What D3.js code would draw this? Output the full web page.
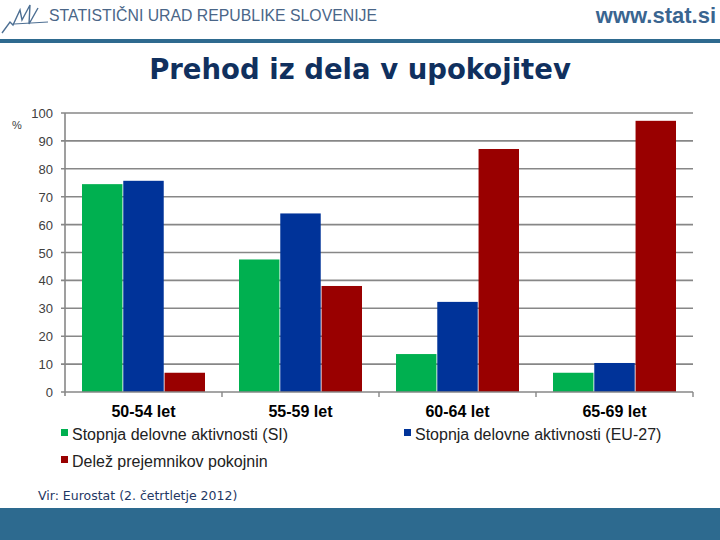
<!DOCTYPE html>
<html><head><meta charset="utf-8">
<script src="https://cdn.jsdelivr.net/npm/d3@7/dist/d3.min.js"></script>
<style>body{margin:0;background:#fff}svg{display:block}</style>
</head><body>
<script>
const categories = ["50-54 let","55-59 let","60-64 let","65-69 let"];
const seriesNames = ["Stopnja delovne aktivnosti (SI)","Stopnja delovne aktivnosti (EU-27)","Delež prejemnikov pokojnin"];
const valuesSI = [74.5, 47.5, 13.6, 6.9];
const valuesEU = [75.7, 64.0, 32.3, 10.4];
const valuesPension = [6.9, 38.0, 87.1, 97.2];
const yTicks = [0,10,20,30,40,50,60,70,80,90,100];
const colors = ["#00B050","#003399","#990000"];
const seriesValues = [valuesSI, valuesEU, valuesPension];

const W=720,H=540;
const svg=d3.select("body").append("svg").attr("width",W).attr("height",H);

// header
svg.append("rect").attr("x",0).attr("y",39).attr("width",W).attr("height",4).attr("fill","#2E6A8F");
svg.append("path").attr("d","M2,33 L10,22 L13,25 L20,10 L22,20 L30,5 L29,24 L38,8")
  .attr("fill","none").attr("stroke","#4d6f93").attr("stroke-width",1.4);
svg.append("path").attr("d","M14,24 L48,22").attr("stroke","#4d6f93").attr("stroke-width",1);
svg.append("text").attr("x",49).attr("y",21).text("STATISTIČNI URAD REPUBLIKE SLOVENIJE")
  .attr("font-family","Liberation Sans, Arial, sans-serif").attr("font-size",17)
  .attr("textLength",328).attr("lengthAdjust","spacingAndGlyphs")
  .attr("fill","#4a6688");
svg.append("text").attr("x",716).attr("y",23).attr("text-anchor","end").text("www.stat.si")
  .attr("font-family","Liberation Sans, Arial, sans-serif").attr("font-weight","bold").attr("font-size",22)
  .attr("fill","#3a6590");

// title
svg.append("text").attr("x",360).attr("y",79).attr("text-anchor","middle").text("Prehod iz dela v upokojitev")
  .attr("font-family","DejaVu Sans, Verdana, sans-serif").attr("font-weight","bold").attr("font-size",27.5)
  .attr("fill","#10305e");

// footer
svg.append("rect").attr("x",0).attr("y",508).attr("width",W).attr("height",32).attr("fill","#2D6A8F");
svg.append("text").attr("x",38).attr("y",500).text("Vir: Eurostat (2. četrtletje 2012)")
  .attr("font-family","DejaVu Sans, Verdana, sans-serif").attr("font-size",12.5)
  .attr("fill","#1F3864");

// scales
const x0=d3.scaleBand().domain(categories).range([65,693]).padding(0);
const x1=d3.scaleBand().domain(d3.range(3)).range([17,x0.bandwidth()-17]).paddingInner(0.02);
const y=d3.scaleLinear().domain([0,100]).range([392,113]);

// gridlines
const g=svg.append("g");
g.selectAll("line.grid").data(yTicks.filter(d=>d>0)).join("line")
  .attr("x1",61).attr("x2",693).attr("y1",d=>y(d)).attr("y2",d=>y(d))
  .attr("stroke","#878787").attr("stroke-width",1.6);
g.selectAll("text.yl").data(yTicks).join("text")
  .attr("x",53).attr("y",d=>y(d)+5).attr("text-anchor","end").text(d=>d)
  .attr("font-family","Liberation Sans, Arial, sans-serif").attr("font-size",13).attr("fill","#404040");
svg.append("text").attr("x",12).attr("y",129).text("%")
  .attr("font-family","Liberation Sans, Arial, sans-serif").attr("font-size",11).attr("fill","#404040");

// bars
categories.forEach((c,i)=>{
  seriesValues.forEach((vals,s)=>{
    svg.append("rect").attr("x",x0(c)+x1(s)).attr("width",x1.bandwidth())
      .attr("y",y(vals[i])).attr("height",y(0)-y(vals[i])).attr("fill",colors[s]);
  });
});

// axes lines
svg.append("line").attr("x1",65).attr("x2",65).attr("y1",113).attr("y2",396).attr("stroke","#878787").attr("stroke-width",1.6);
svg.append("line").attr("x1",61).attr("x2",693).attr("y1",y(0)).attr("y2",y(0)).attr("stroke","#878787").attr("stroke-width",1.6);
const bounds=categories.map(c=>x0(c)+x0.bandwidth());
svg.selectAll("line.xt").data(bounds).join("line")
  .attr("x1",d=>d).attr("x2",d=>d).attr("y1",y(0)).attr("y2",y(0)+5).attr("stroke","#878787").attr("stroke-width",1.4);

// x labels
svg.selectAll("text.xl").data(categories).join("text")
  .attr("x",d=>x0(d)+x0.bandwidth()/2).attr("y",417).attr("text-anchor","middle").text(d=>d)
  .attr("font-family","Liberation Sans, Arial, sans-serif").attr("font-weight","bold").attr("font-size",16)
  .attr("fill","#000");

// legend
const legPos=[[61,436],[404,436],[61,463]];
seriesNames.forEach((n,s)=>{
  const [lx,ly]=legPos[s];
  svg.append("rect").attr("x",lx).attr("y",ly-7).attr("width",7).attr("height",7).attr("fill",colors[s]);
  svg.append("text").attr("x",lx+11).attr("y",ly+4).text(n)
    .attr("font-family","Liberation Sans, Arial, sans-serif").attr("font-size",16)
    .attr("fill","#222");
});
</script>
</body></html>
